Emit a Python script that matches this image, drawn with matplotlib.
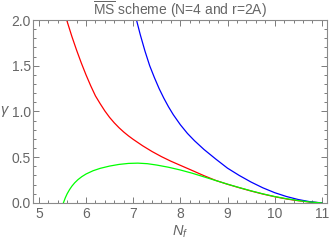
"""
Anomalous dimension gamma vs N_f, MS-bar scheme (N=4, r=2A).
Values read off the reference picture.
"""

import matplotlib.pyplot as plt
from matplotlib.ticker import MultipleLocator

plt.rcParams["font.family"] = ["Liberation Sans", "DejaVu Sans"]
plt.rcParams["mathtext.fontset"] = "custom"
plt.rcParams["mathtext.rm"] = "Liberation Sans"
plt.rcParams["mathtext.it"] = "Liberation Sans:italic"

# ---------------------------------------------------------------------------
# Data
# ---------------------------------------------------------------------------

red_nf = [5.59, 5.70, 5.80, 5.90, 6.00, 6.10, 6.20, 6.30, 6.40, 6.50, 6.60,
          6.70, 6.80, 6.90, 7.00, 7.20, 7.40, 7.60, 7.80, 8.00, 8.25, 8.50,
          8.75, 9.00, 9.25, 9.50, 9.75, 10.00, 10.25, 10.50, 10.75, 11.00]
red_gamma = [2.00, 1.82, 1.67, 1.53, 1.40, 1.28, 1.17, 1.085, 1.005, 0.935,
             0.875, 0.822, 0.775, 0.733, 0.695, 0.625, 0.562, 0.506, 0.456,
             0.411, 0.355, 0.298, 0.246, 0.204, 0.166, 0.13, 0.097, 0.068,
             0.043, 0.024, 0.009, 0.0]

blue_nf = [7.07, 7.15, 7.25, 7.35, 7.45, 7.55, 7.65, 7.75, 7.85, 8.00, 8.15,
           8.30, 8.50, 8.75, 9.00, 9.25, 9.50, 9.75, 10.00, 10.25, 10.50,
           10.75, 11.00]
blue_gamma = [2.00, 1.84, 1.66, 1.50, 1.37, 1.25, 1.145, 1.05, 0.965, 0.855,
              0.76, 0.68, 0.585, 0.48, 0.38, 0.30, 0.228, 0.165, 0.112, 0.07,
              0.037, 0.013, 0.0]

green_nf = [5.52, 5.56, 5.60, 5.65, 5.70, 5.76, 5.83, 5.91, 6.00, 6.15, 6.30,
            6.50, 6.70, 6.90, 7.10, 7.30, 7.50, 7.75, 8.00, 8.25, 8.50, 8.75,
            9.00, 9.25, 9.50, 9.75, 10.00, 10.25, 10.50, 10.75, 11.00]
green_gamma = [0.0, 0.055, 0.10, 0.145, 0.183, 0.22, 0.255, 0.287, 0.316,
               0.352, 0.378, 0.403, 0.421, 0.432, 0.435, 0.429, 0.414, 0.39,
               0.36, 0.325, 0.285, 0.245, 0.205, 0.168, 0.132, 0.099, 0.07,
               0.046, 0.026, 0.01, 0.0]

x_ticks = [5, 6, 7, 8, 9, 10, 11]
y_ticks = [0.0, 0.5, 1.0, 1.5, 2.0]

GREY = "#666666"

# ---------------------------------------------------------------------------
# Plot
# ---------------------------------------------------------------------------

fig = plt.figure(figsize=(3.32, 2.41), dpi=100)
ax = fig.add_axes([0.100, 0.158, 0.885, 0.759])

ax.plot(red_nf, red_gamma, color="#ff0000", lw=0.9)
ax.plot(blue_nf, blue_gamma, color="#0000ff", lw=0.9)
ax.plot(green_nf, green_gamma, color="#00ff00", lw=0.9)

ax.set_xlim(4.88, 11.11)
ax.set_ylim(0.0, 2.0)

ax.set_xticks(x_ticks)
ax.set_yticks(y_ticks)
ax.set_yticklabels([f"{v:.1f}" for v in y_ticks])
ax.xaxis.set_minor_locator(MultipleLocator(0.2))
ax.yaxis.set_minor_locator(MultipleLocator(0.1))

ax.tick_params(which="both", direction="in", top=True, right=True,
               color=GREY, labelcolor=GREY, labelsize=10, width=0.6)
ax.tick_params(which="major", length=4)
ax.tick_params(which="minor", length=2)
ax.tick_params(axis="y", which="major", pad=1.5)
ax.tick_params(axis="x", which="major", pad=3)
for side in ax.spines.values():
    side.set_color("#8a8a8a")
    side.set_linewidth(0.8)

ax.set_title(r"$\overline{\mathrm{MS}}$ scheme (N=4 and r=2A)",
             fontsize=10, color=GREY, pad=3)
ax.set_xlabel(r"$N_f$", fontsize=10.5, color=GREY, labelpad=1.5)
ax.set_ylabel(r"$\gamma$", fontsize=10.5, color=GREY, rotation=0,
              va="center", ha="center")
ax.yaxis.set_label_coords(-0.095, 0.5)

fig.savefig("out.png", dpi=100)
plt.close(fig)
